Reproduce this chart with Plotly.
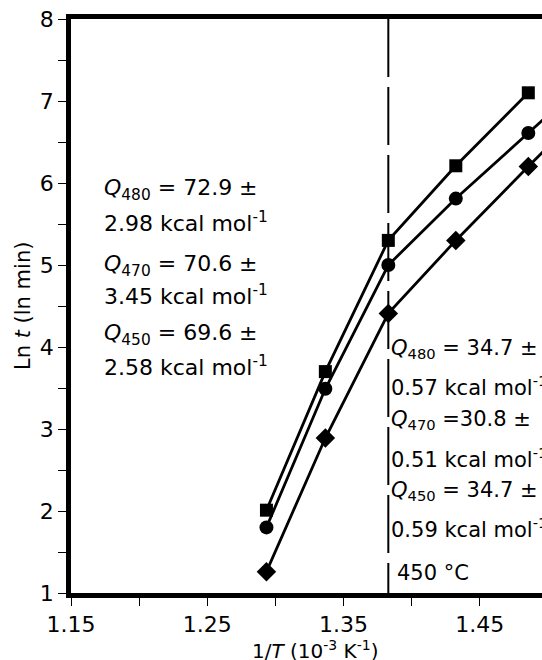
import plotly.graph_objects as go

# ---- data ----
temps_c = [500, 475, 450, 425, 400]
inv_T = [1000.0 / (t + 273.15) for t in temps_c]  # 1/T in 10^-3 K^-1
ln_t_480 = [2.01, 3.70, 5.30, 6.21, 7.10]
ln_t_470 = [1.80, 3.49, 5.00, 5.81, 6.61]
ln_t_450 = [1.26, 2.89, 4.41, 5.30, 6.20]
x_ticks = [1.15, 1.25, 1.35, 1.45]
x_minor = [1.20, 1.30, 1.40]
y_ticks = [1, 2, 3, 4, 5, 6, 7, 8]
y_minor = [1.5, 2.5, 3.5, 4.5, 5.5, 6.5, 7.5]
x_range = [1.15, 1.4956]
y_range = [1, 8]
break_temp_c = 450

FONT = "DejaVu Sans"
W, H = 542, 660
ML, MR, MT, MB = 71, 0, 19, 67
PW, PH = W - ML - MR, H - MT - MB

fig = go.Figure()

def extend(xs, ys, xend):
    slope = (ys[-1] - ys[-2]) / (xs[-1] - xs[-2])
    return xs + [xend], ys + [ys[-1] + slope * (xend - xs[-1])]

series = [
    (ln_t_480, "square", 13, False),
    (ln_t_470, "circle", 14, True),
    (ln_t_450, "diamond", 15, True),
]
for ys, sym, size, ext in series:
    lx, ly = (extend(inv_T, ys, x_range[1] + 0.01) if ext else (inv_T, ys))
    fig.add_trace(go.Scatter(x=lx, y=ly, mode="lines",
                             line=dict(color="black", width=2.8),
                             showlegend=False, hoverinfo="skip"))
    fig.add_trace(go.Scatter(x=inv_T, y=ys, mode="markers",
                             marker=dict(symbol=sym, size=size, color="black"),
                             showlegend=False))

x_break = 1000.0 / (break_temp_c + 273.15)
fig.add_shape(type="line", xref="x", yref="y", x0=x_break, x1=x_break,
              y0=y_range[1], y1=y_range[0], layer="below",
              line=dict(color="black", width=2, dash="58px,10px"))

afont = dict(family=FONT, size=22, color="black")
left_texts = [
    ("<i>Q</i><sub>480</sub> = 72.9 ±", 5.92),
    ("2.98 kcal mol<sup>-1</sup>", 5.53),
    ("<i>Q</i><sub>470</sub> = 70.6 ±", 5.00),
    ("3.45 kcal mol<sup>-1</sup>", 4.64),
    ("<i>Q</i><sub>450</sub> = 69.6 ±", 4.15),
    ("2.58 kcal mol<sup>-1</sup>", 3.77),
]
for txt, yy in left_texts:
    fig.add_annotation(x=1.173, y=yy, text=txt, showarrow=False,
                       xanchor="left", yanchor="middle", font=afont)

rfont = dict(family=FONT, size=21, color="black")
right_texts = [
    ("<i>Q</i><sub>480</sub> = 34.7 ±", 3.98),
    ("0.57 kcal mol<sup>-1</sup>", 3.53),
    ("<i>Q</i><sub>470</sub> =30.8 ±", 3.11),
    ("0.51 kcal mol<sup>-1</sup>", 2.65),
    ("<i>Q</i><sub>450</sub> = 34.7 ±", 2.24),
    ("0.59 kcal mol<sup>-1</sup>", 1.79),
    ("450 °C", 1.25),
]
for txt, yy in right_texts:
    xx = x_break + 0.005 if txt.startswith("450") else x_break + 0.0008
    fig.add_annotation(x=xx, y=yy, text=txt, showarrow=False,
                       xanchor="left", yanchor="middle", font=rfont)

# axis titles as paper-positioned annotations
fig.add_annotation(xref="paper", yref="paper", x=(315 - ML) / PW, y=-(650 - (H - MB)) / PH,
                   text="1/<i>T</i> (10<sup>-3</sup> K<sup>-1</sup>)", showarrow=False,
                   xanchor="center", yanchor="middle", font=dict(family=FONT, size=20))
fig.add_annotation(xref="paper", yref="paper", x=(23 - ML) / PW, y=0.5,
                   text="Ln <i>t</i> (ln min)", showarrow=False, textangle=-90,
                   xanchor="center", yanchor="middle", font=dict(family=FONT, size=21))

fig.update_layout(
    width=W, height=H,
    margin=dict(l=ML, r=MR, t=MT, b=MB, autoexpand=False),
    plot_bgcolor="white", paper_bgcolor="white",
    font=dict(family=FONT, size=22, color="black"),
)
fig.update_xaxes(
    range=x_range, tickvals=x_ticks, ticktext=[f"{v:.2f}" for v in x_ticks],
    ticks="outside", ticklen=8, tickwidth=1, tickcolor="black",
    minor=dict(tickvals=x_minor, ticks="outside", ticklen=8, tickwidth=1, tickcolor="black"),
    showline=True, linewidth=4.5, linecolor="black", mirror=True,
    showgrid=False, zeroline=False, automargin=False,
    tickfont=dict(family=FONT, size=22),
)
fig.update_yaxes(
    range=y_range, tickvals=y_ticks,
    ticks="outside", ticklen=8, tickwidth=1, tickcolor="black",
    minor=dict(tickvals=y_minor, ticks="outside", ticklen=8, tickwidth=1, tickcolor="black"),
    showline=True, linewidth=4.5, linecolor="black", mirror=False,
    showgrid=False, zeroline=False, automargin=False,
    tickfont=dict(family=FONT, size=22),
)

fig.write_html("out.html", config={"displayModeBar": False},
               post_script="document.body.style.margin='0px';")
